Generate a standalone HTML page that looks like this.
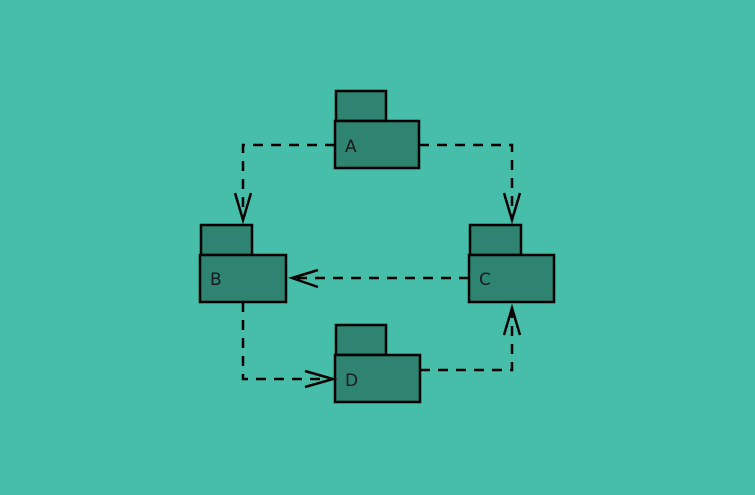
<!DOCTYPE html>
<html><head><meta charset="utf-8"><style>
html,body{margin:0;padding:0;background:#46bea9;}
svg{display:block}
text{font-family:"DejaVu Sans","Liberation Sans",sans-serif;font-size:17px;fill:#1a1a1a}
</style></head><body>
<svg width="755" height="495" viewBox="0 0 755 495">
<rect width="755" height="495" fill="#46bea9"/>
<g fill="#2e8371" stroke="#000" stroke-width="2.5">
<rect x="336" y="91" width="50" height="30"/><rect x="335" y="121" width="84" height="47"/>
<rect x="201" y="225" width="51" height="30"/><rect x="200" y="255" width="86" height="47"/>
<rect x="470" y="225" width="51" height="30"/><rect x="469" y="255" width="85" height="47"/>
<rect x="336" y="325" width="50" height="30"/><rect x="335" y="355" width="85" height="47"/>
</g>
<text x="345" y="152">A</text>
<text x="210" y="285">B</text>
<text x="479" y="285">C</text>
<text x="345" y="386">D</text>
<g fill="none" stroke="#000" stroke-width="2.5" stroke-dasharray="10,8">
<path d="M335 145 H243 V220"/>
<path d="M419 145 H512 V220"/>
<path d="M469 278 H292"/>
<path d="M243 302 V379 H333"/>
<path d="M420 370 H512 V308"/>
</g>
<g fill="none" stroke="#000" stroke-width="2.5">
<path d="M235 193 L243 220 L251 193"/>
<path d="M504 193 L512 220 L520 193"/>
<path d="M318 270 L292 278 L318 287"/>
<path d="M305 371 L333 379 L305 387"/>
<path d="M504 335 L512 308 L520 335"/>
</g>
</svg>
</body></html>
